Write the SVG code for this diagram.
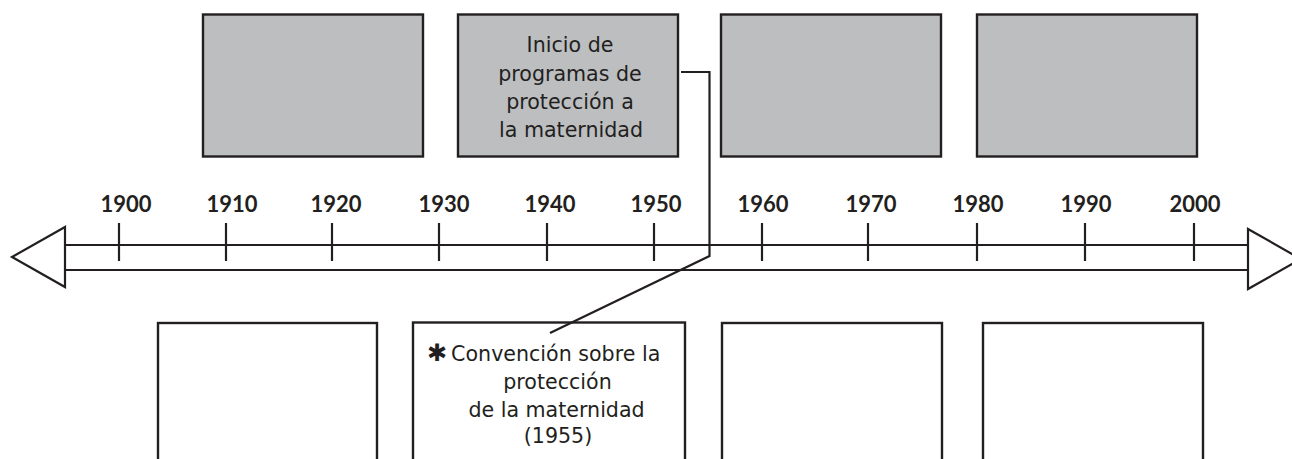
<svg xmlns="http://www.w3.org/2000/svg" width="1292" height="459" viewBox="0 0 1292 459">
<style>
.top{fill:#bcbec0;stroke:#231f20;stroke-width:2.4}
.bot{fill:#ffffff;stroke:#231f20;stroke-width:2.4}
.ln{fill:none;stroke:#231f20;stroke-width:2.2}
.yr{font-family:Lato,"Open Sans","DejaVu Sans",sans-serif;font-weight:bold;font-size:22px;fill:#231f20;text-anchor:middle}
.tx{font-family:"DejaVu Sans",sans-serif;font-size:20.6px;fill:#231f20;text-anchor:middle}
.txs{font-family:"DejaVu Sans",sans-serif;font-size:20.6px;fill:#231f20;text-anchor:start}
</style>
<rect width="1292" height="459" fill="#ffffff"/>
<g id="axis">
<line class="ln" x1="65" y1="245" x2="1248" y2="245"/>
<line class="ln" x1="65" y1="270" x2="1248" y2="270"/>
<polygon class="ln" points="65,227 12,257 65,287" fill="#ffffff"/>
<polygon class="ln" points="1248,229 1301,259 1248,289"/>
<g class="ticks">
<line class="ln" x1="119" y1="223" x2="119" y2="261"/>
<line class="ln" x1="226" y1="223" x2="226" y2="261"/>
<line class="ln" x1="332" y1="223" x2="332" y2="261"/>
<line class="ln" x1="439" y1="223" x2="439" y2="261"/>
<line class="ln" x1="547" y1="223" x2="547" y2="261"/>
<line class="ln" x1="654" y1="223" x2="654" y2="261"/>
<line class="ln" x1="762" y1="223" x2="762" y2="261"/>
<line class="ln" x1="868" y1="223" x2="868" y2="261"/>
<line class="ln" x1="977" y1="223" x2="977" y2="261"/>
<line class="ln" x1="1085" y1="223" x2="1085" y2="261"/>
<line class="ln" x1="1194" y1="223" x2="1194" y2="261"/>
</g>
<g class="years">
<text class="yr" x="126" y="212">1900</text>
<text class="yr" x="232" y="212">1910</text>
<text class="yr" x="336" y="212">1920</text>
<text class="yr" x="444" y="212">1930</text>
<text class="yr" x="550" y="212">1940</text>
<text class="yr" x="656" y="212">1950</text>
<text class="yr" x="763" y="212">1960</text>
<text class="yr" x="871" y="212">1970</text>
<text class="yr" x="978" y="212">1980</text>
<text class="yr" x="1086" y="212">1990</text>
<text class="yr" x="1195" y="212">2000</text>
</g>
</g>
<g id="top1"><rect class="top" x="203" y="14.5" width="220" height="142"/></g>
<g id="top2">
<rect class="top" x="458" y="14.5" width="220" height="142"/>
<text class="tx" x="570" y="52">Inicio de</text>
<text class="tx" x="570" y="80.5">programas de</text>
<text class="tx" x="570" y="109">protección a</text>
<text class="tx" x="571" y="137">la maternidad</text>
</g>
<g id="top3"><rect class="top" x="721" y="14.5" width="220" height="142"/></g>
<g id="top4"><rect class="top" x="977" y="14.5" width="220" height="142"/></g>
<g id="bot1"><rect class="bot" x="158" y="323" width="219" height="150"/></g>
<g id="bot2">
<rect class="bot" x="413" y="322.5" width="272" height="150"/>
<text class="txs" x="427" y="361"><tspan font-size="24px" font-weight="bold" dy="0">✱</tspan><tspan dy="0" dx="4">Convención sobre la</tspan></text>
<text class="tx" x="557.5" y="389">protección</text>
<text class="tx" x="556.5" y="417">de la maternidad</text>
<text class="tx" x="558" y="443">(1955)</text>
</g>
<g id="bot3"><rect class="bot" x="722" y="323" width="220" height="150"/></g>
<g id="bot4"><rect class="bot" x="983" y="323" width="220" height="150"/></g>
<g id="connectors">
<polyline class="ln" points="681,72 709.5,72 709.5,256 550,333"/>
</g>
</svg>
